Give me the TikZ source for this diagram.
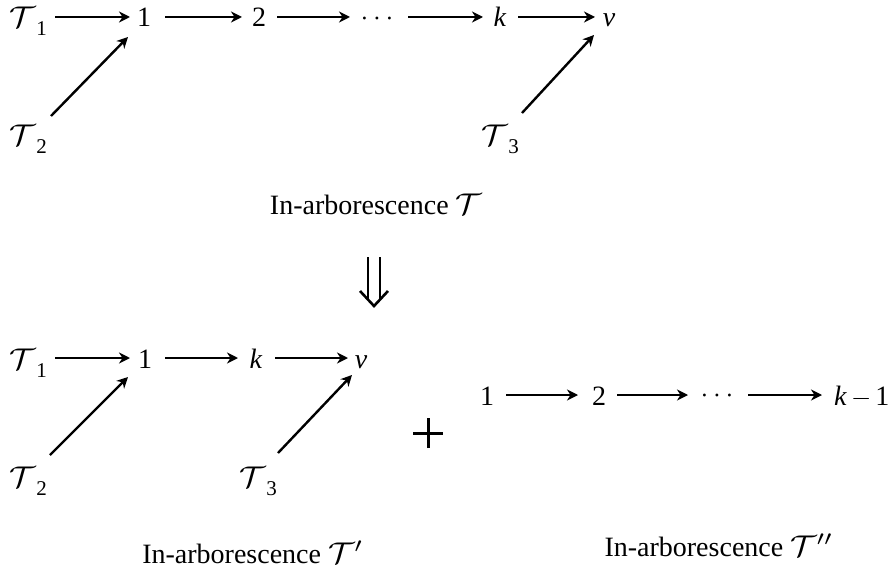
\documentclass[tikz,border=0pt]{standalone}
\usepackage{graphicx}
\usepackage{fontspec}
\setmainfont{Liberation Serif}
\usetikzlibrary{arrows.meta}
\newcommand\calT[1]{\scalebox{3.3}[3]{\fontsize{10}{12}\selectfont$\mathcal{T}#1$}}
\newcommand\TT[1]{\calT{}\kern1pt\raisebox{-8pt}{\fontsize{21}{21}\selectfont #1}}
\newcommand\mydots{\scalebox{2.8}{\fontsize{10}{12}\selectfont$\cdots$}}
\newcommand\myminus{\scalebox{2.6}{\fontsize{10}{12}\selectfont$-$}}
\begin{document}
\begin{tikzpicture}[x=1pt,y=-1pt,font=\fontsize{28}{34}\selectfont,
  lab/.style={anchor=base,inner sep=0pt},
  arr/.style={-{Stealth[length=11pt,width=11pt,inset=3.5pt]},line width=2.4pt},
  thick line/.style={line width=2.6pt}]
\useasboundingbox (0,0) rectangle (893,572);
% ---- top tree
\node[lab] (t1) at (28,28) {\TT{1}};
\node[lab] (a1) at (144,27) {1};
\node[lab] (a2) at (259,27) {2};
\node[lab] (ad) at (377,26) {\mydots};
\node[lab] (ak) at (500,27) {\textit{k}};
\node[lab] (av) at (609,27) {\textit{v}};
\node[lab] (t2) at (28,146) {\TT{2}};
\node[lab] (t3) at (500,146) {\TT{3}};
\draw[arr] ([shift={(27pt,11pt)}]t1.base) -- ([shift={(-14pt,10pt)}]a1.base);
\draw[arr] ([shift={(21pt,10pt)}]a1.base) -- ([shift={(-17pt,10pt)}]a2.base);
\draw[arr] ([shift={(18pt,10pt)}]a2.base) -- ([shift={(-27pt,9pt)}]ad.base);
\draw[arr] ([shift={(31pt,9pt)}]ad.base) -- ([shift={(-17pt,10pt)}]ak.base);
\draw[arr] ([shift={(18pt,10pt)}]ak.base) -- ([shift={(-14pt,10pt)}]av.base);
\draw[arr] ([shift={(23pt,30pt)}]t2.base) -- ([shift={(-16pt,-10pt)}]a1.base);
\draw[arr] ([shift={(22pt,33pt)}]t3.base) -- ([shift={(-15pt,-8pt)}]av.base);
\node[lab] (l1) at (376,214) {In-arborescence \calT{}};
% ---- implication arrow
\coordinate (dn) at (374,257);
\draw[thick line] ([xshift=-6pt]dn) -- ++(0,42);
\draw[thick line] ([xshift=6pt]dn) -- ++(0,42);
\draw[thick line,line join=miter] ([shift={(-14,34)}]dn) -- ([shift={(0,49)}]dn) -- ([shift={(14,34)}]dn);
% ---- bottom left tree
\node[lab] (b1) at (28,369) {\TT{1}};
\node[lab] (bn1) at (145,368) {1};
\node[lab] (bk) at (256,368) {\textit{k}};
\node[lab] (bv) at (361,368) {\textit{v}};
\node[lab] (bt2) at (28,487) {\TT{2}};
\node[lab] (bt3) at (258,487) {\TT{3}};
\draw[arr] ([shift={(27pt,11pt)}]b1.base) -- ([shift={(-15pt,10pt)}]bn1.base);
\draw[arr] ([shift={(20pt,10pt)}]bn1.base) -- ([shift={(-18pt,10pt)}]bk.base);
\draw[arr] ([shift={(19pt,10pt)}]bk.base) -- ([shift={(-13pt,10pt)}]bv.base);
\draw[arr] ([shift={(22pt,32pt)}]bt2.base) -- ([shift={(-17pt,-9pt)}]bn1.base);
\draw[arr] ([shift={(20pt,34pt)}]bt3.base) -- ([shift={(-9pt,-7pt)}]bv.base);
% ---- plus sign
\coordinate (plus) at (428,433);
\draw[line width=3pt] ([xshift=-15pt]plus) -- ([xshift=15pt]plus);
\draw[line width=3pt] ([yshift=-15pt]plus) -- ([yshift=15pt]plus);
% ---- bottom right path
\node[lab] (c1) at (487,405) {1};
\node[lab] (c2) at (599,405) {2};
\node[lab] (cd) at (717,402) {\mydots};
\node[lab,anchor=base west] (ck) at (834,405) {\textit{k}\kern4pt\myminus\kern4pt 1};
\draw[arr] ([shift={(19pt,10pt)}]c1.base) -- ([shift={(-21pt,10pt)}]c2.base);
\draw[arr] ([shift={(18pt,10pt)}]c2.base) -- ([shift={(-29pt,7pt)}]cd.base);
\draw[arr] ([shift={(31pt,7pt)}]cd.base) -- ([shift={(-12pt,10pt)}]ck.base west);
\node[lab] (l2) at (253,563) {In-arborescence \calT{'}};
\node[lab] (l3) at (719,556) {In-arborescence \calT{''}};
\end{tikzpicture}
\end{document}
